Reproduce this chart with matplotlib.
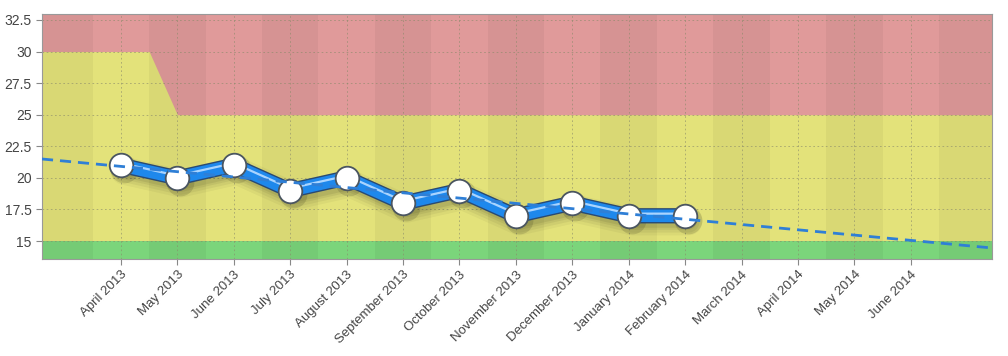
import numpy as np
import matplotlib
matplotlib.use("Agg")
import matplotlib.pyplot as plt
import matplotlib.patheffects as pe

months = ["April 2013", "May 2013", "June 2013", "July 2013", "August 2013",
          "September 2013", "October 2013", "November 2013", "December 2013",
          "January 2014", "February 2014", "March 2014", "April 2014",
          "May 2014", "June 2014"]
values = [21, 20, 21, 19, 20, 18, 19, 17, 18, 17, 17]
yticks = [15, 17.5, 20, 22.5, 25, 27.5, 30, 32.5]
ytick_labels = ["15", "17.5", "20", "22.5", "25", "27.5", "30", "32.5"]
green_top = 15
yellow_top_early = 30
yellow_top = 25

xmin, xmax = -1.4, 15.44
ymin, ymax = 13.58, 32.97

fig = plt.figure(figsize=(10.08, 3.56), dpi=100)
ax = fig.add_axes([42/1008, 1-259/356, (992-42)/1008, (259-14)/356])
ax.set_xlim(xmin, xmax)
ax.set_ylim(ymin, ymax)

# bands
red = "#e09a9a"
yellow = "#e3e27a"
green = "#7bd57b"
ax.axhspan(ymin, ymax, color=red, lw=0, zorder=0)
bx = [xmin, 0.5, 1, xmax]
by = [yellow_top_early, yellow_top_early, yellow_top, yellow_top]
ax.fill_between(bx, green_top, by, color=yellow, lw=0, zorder=0.5)
ax.axhspan(ymin, green_top, color=green, lw=0, zorder=0.6)

# alternating stripes
for i in range(-2, 17):
    if i % 2 != 0:
        ax.axvspan(i - 0.5, i + 0.5, color="black", alpha=0.045, lw=0, zorder=0.8)

# grid
ax.set_xticks(range(len(months)))
ax.set_xticklabels(months, rotation=45, ha="right", rotation_mode="anchor",
                   fontsize=9.5, color="#444444", family="Liberation Sans")
ax.set_yticks(yticks)
ax.set_yticklabels(ytick_labels, fontsize=10, color="#444444", family="Liberation Sans")
ax.grid(True, color="#8a8a6a", linestyle=(0, (2, 3)), lw=0.6, alpha=0.7, zorder=1)
ax.tick_params(axis="both", length=4, color="#888888", width=0.8)
ax.tick_params(axis="x", pad=3)
for s in ax.spines.values():
    s.set_color("#999999")
    s.set_linewidth(0.8)

xs = np.arange(len(values))
vals = np.array(values, dtype=float)

# soft shadow below the series
for w, a in [(20, 0.04), (16, 0.05), (12, 0.06), (9, 0.07)]:
    ax.plot(xs + 0.06, vals - 0.45, color="black", lw=w, alpha=a, zorder=2.2,
            solid_joinstyle="round", solid_capstyle="round")
ax.plot(xs + 0.05, vals - 0.3, linestyle="none", marker="o", ms=20,
        mfc="black", mec="none", alpha=0.12, zorder=2.3)

# main series: outline, fill, highlight
ax.plot(xs, vals, color="#2a4a72", lw=11, zorder=3, solid_joinstyle="round",
        solid_capstyle="round")
ax.plot(xs, vals, color="#1e88ec", lw=9, zorder=3.2, solid_joinstyle="round",
        solid_capstyle="round")
ax.plot(xs, vals + 0.17, color="#a9d4ff", lw=1.6, zorder=3.4,
        solid_joinstyle="round")
ax.plot(xs, vals, linestyle="none", marker="o", ms=17, mfc="white",
        mec="#4a5560", mew=1.3, zorder=4)

# trend line (least squares on the data), drawn over the series
k, b = np.polyfit(xs, vals, 1)
tx = np.array([xmin, xmax])
ax.plot(tx, k * tx + b, color="#2f7fd6", lw=2, linestyle=(0, (4, 2.5)), zorder=5)

fig.savefig("out.png", dpi=100)
